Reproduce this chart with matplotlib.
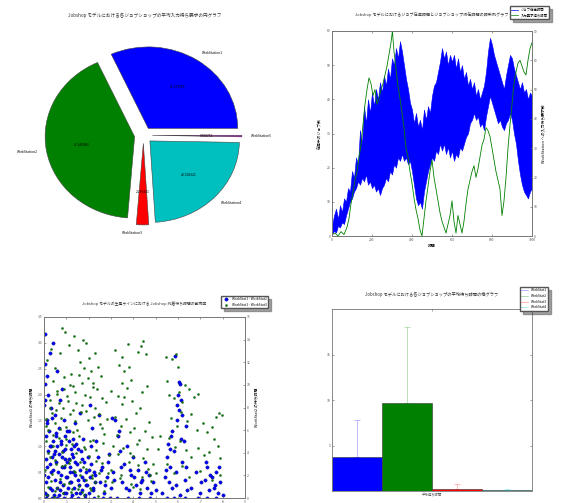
import matplotlib
matplotlib.use("Agg")
import matplotlib.pyplot as plt
from matplotlib.lines import Line2D

plt.rcParams['font.family'] = ['Noto Sans CJK JP', 'DejaVu Sans']
plt.rcParams['font.size'] = 2.5
plt.rcParams['axes.edgecolor'] = '#777777'
plt.rcParams['axes.linewidth'] = 0.6
for a in ('xtick', 'ytick'):
    plt.rcParams[a + '.direction'] = 'in'
    plt.rcParams[a + '.major.size'] = 1.6
    plt.rcParams[a + '.major.width'] = 0.4
    plt.rcParams[a + '.major.pad'] = 1.2
    plt.rcParams[a + '.labelsize'] = 2.4
    plt.rcParams[a + '.color'] = '#555555'
plt.rcParams['legend.fontsize'] = 2.4

# --- pie: average input-wait requests per workstation ---
pie_labels = ['WorkStation1', 'WorkStation2', 'WorkStation3', 'WorkStation4', 'WorkStation5']
pie_values = [31.797314, 41.943286, 2.230321, 23.728323, 0.300756]
pie_colors = ['#0000ff', '#008000', '#ff0000', '#00bfbf', '#bf00bf']

# --- time series (blue band = job stock time, green = input wait) ---
t_band = list(range(0, 1001, 10))
band_hi = [3, 6, 8, 5, 9, 7, 11, 10, 14, 13, 19, 17, 23, 21, 31, 27, 38, 33, 40, 36,
           42, 38, 43, 40, 45, 42, 47, 44, 49, 46, 52, 50, 55, 52, 57, 54, 50, 46, 43, 39,
           37, 33, 36, 32, 34, 31, 37, 34, 38, 36, 41, 44, 45, 48, 51, 55, 52, 54, 50, 53,
           51, 53, 49, 52, 48, 50, 46, 48, 44, 46, 43, 45, 41, 43, 40, 42, 44, 48, 54, 58,
           56, 53, 51, 49, 47, 45, 43, 47, 50, 53, 52, 49, 47, 45, 43, 45, 42, 43, 40, 42,
           41]
band_lo = [0.5, 1.5, 1, 3, 2.5, 4, 3.5, 6, 8, 10, 11, 13, 14, 16, 15, 17, 16, 18, 15, 16,
           14, 15, 13, 14, 12, 14, 15, 17, 16, 19, 18, 21, 20, 23, 22, 24, 22, 23, 21, 22,
           19, 15, 11, 9, 10, 8, 13, 16, 19, 21, 23, 22, 25, 24, 27, 25, 27, 24, 26, 23,
           25, 22, 24, 23, 26, 25, 27, 29, 30, 33, 34, 36, 34, 35, 32, 33, 31, 35, 38, 41,
           39, 37, 35, 33, 34, 32, 31, 33, 34, 36, 34, 30, 27, 22, 18, 15, 13, 12, 11, 13,
           14]
t_wait = [0, 15, 30, 45, 60, 75, 85, 95, 105, 115, 125, 135, 145, 155, 165, 175, 185,
          195, 205, 215, 225, 235, 245, 255, 265, 275, 285, 295, 302, 310, 320, 330,
          340, 350, 360, 370, 380, 390, 400, 410, 420, 430, 440, 450, 460, 470, 480,
          490, 500, 510, 520, 530, 540, 550, 560, 570, 580, 590, 600, 610, 620, 630,
          640, 650, 660, 670, 680, 690, 700, 710, 720, 730, 740, 750, 760, 770, 780,
          790, 800, 810, 820, 830, 840, 850, 860, 870, 880, 890, 900, 910, 920, 930,
          940, 950, 960, 970, 980, 990, 1000]
wait_val = [0.5, 1, 0, 1.5, 0.5, 3, 6, 11, 15, 19, 22, 27, 31, 38, 45, 50, 54,
            52, 48, 50, 45, 47, 50, 52, 55, 58, 62, 66, 70, 63, 57, 51,
            47, 42, 37, 30, 27, 22, 18, 13, 9, 6, 2, 0, 6, 12, 17,
            22, 26, 20, 16, 12, 8, 5, 3, 1, 4, 7, 12, 5, 1, 7,
            4, 1, 5, 11, 16, 19, 22, 24, 20, 23, 27, 31, 33, 37, 36,
            34, 30, 26, 22, 19, 16, 7, 12, 20, 30, 38, 45, 52, 56, 59,
            60, 58, 56, 55, 60, 64, 66]

# --- scatter: arrival wait times ---
blue_x = [0.05, 0.1, 0.15, 0.2, 0.08, 0.12, 0.25, 0.3, 0.35, 0.4, 0.45, 0.5, 0.55, 0.6, 0.65,
          0.7, 0.75, 0.8, 0.85, 0.9, 0.95, 1.0, 1.05, 1.1, 1.15, 1.2, 1.25, 1.3, 1.35, 1.4,
          1.45, 1.5, 0.02, 0.05, 0.03, 0.06, 0.4, 0.15, 0.3, 0.5, 0.2, 0.7, 0.9, 1.1, 1.6,
          1.4, 0.6, 0.25, 0.8, 0.1, 0.35, 0.6, 0.9, 1.2, 1.5,
          1.6, 1.7, 1.8, 1.9, 2.0, 2.1, 2.2, 2.3, 2.4, 2.5, 2.6, 2.7, 2.8, 2.9, 3.0,
          1.75, 2.15, 2.45, 2.05, 1.85, 2.25, 2.65, 2.95, 1.65, 2.35,
          3.1, 3.2, 3.3, 3.4, 3.5, 3.6, 3.7, 3.8, 3.9, 4.0, 4.1, 4.2, 4.3, 4.4, 4.5,
          4.6, 4.7, 4.8, 4.9, 3.35, 3.05, 3.25, 3.75, 4.25, 4.75, 5.0,
          5.3, 5.4, 5.5, 5.55, 5.6, 5.65, 5.7, 5.75, 5.8, 5.85, 5.9, 5.95, 6.0, 6.05, 6.1,
          6.15, 6.2, 6.25, 6.3, 6.35, 6.4, 6.05, 5.95, 6.2, 5.75, 6.1, 5.5, 5.8, 6.3,
          6.6, 6.8, 7.0, 7.2, 7.3, 7.4, 7.5, 7.6, 7.7, 7.8, 7.9, 6.9, 7.3, 7.7, 8.0,
          0.02, 0.07, 0.12, 0.18, 0.22, 0.28, 0.33, 0.38, 0.42, 0.48, 0.52, 0.58, 0.62, 0.68,
          0.72, 0.78, 0.82, 0.88, 0.92, 0.98, 1.02, 1.08, 1.12, 1.18, 1.22, 1.28, 1.32, 1.38,
          1.42, 1.48, 1.52, 1.58, 1.62, 1.68, 1.72, 1.78, 1.82, 1.88, 1.92, 1.98, 2.02, 2.08,
          2.12, 2.18, 2.22, 2.28, 0.05, 0.15, 0.25, 0.35, 0.45, 0.55, 0.65, 0.75, 0.85, 0.95,
          1.05, 1.15, 1.25, 1.35,
          2.55, 2.75, 2.85, 3.15, 3.45, 3.65, 3.85, 4.05, 4.35, 4.55, 5.45, 5.65, 5.9, 6.15,
          6.35, 7.05, 7.25, 7.45, 7.65, 7.85]
blue_y = [0.1, 0.3, 0.6, 0.9, 1.2, 1.5, 0.2, 0.5, 0.8, 1.1, 0.05, 0.35, 0.7, 1.0, 1.35,
          0.15, 0.45, 0.8, 0.25, 0.6, 1.2, 0.1, 0.4, 0.75, 0.3, 0.95, 0.05, 0.5, 0.2, 0.7,
          1.05, 0.35, 1.8, 2.2, 2.6, 3.17, 3.0, 2.35, 1.75, 1.6, 2.0, 1.9, 1.5, 1.3, 1.65,
          1.45, 2.45, 2.8, 2.1, 0.0, 0.0, 0.0, 0.0, 0.0, 0.0,
          0.1, 0.4, 0.7, 0.25, 0.55, 1.0, 0.15, 0.45, 0.8, 0.3, 0.6, 0.1, 0.4, 0.85, 0.2,
          1.15, 1.35, 1.6, 1.8, 0.0, 0.0, 0.0, 0.0, 0.9, 1.1,
          0.5, 1.5, 1.2, 0.9, 0.3, 0.65, 1.0, 0.15, 0.45, 0.8, 0.25, 0.55, 0.1, 0.35, 0.7,
          0.2, 0.45, 0.1, 0.3, 1.3, 1.55, 0.0, 0.0, 0.0, 0.0, 0.15,
          0.1, 0.4, 0.8, 1.05, 0.3, 0.6, 1.2, 0.2, 0.9, 2.75, 0.5, 1.5, 2.0, 1.7, 2.2,
          1.9, 0.7, 1.1, 0.35, 1.4, 0.15, 2.25, 1.8, 1.6, 1.3, 0.05, 0.0, 0.0, 0.0,
          0.2, 0.5, 0.1, 0.35, 0.6, 0.15, 0.4, 0.2, 0.5, 0.1, 0.3, 0.0, 0.0, 0.0, 0.05,
          0.45, 0.75, 0.05, 0.4, 1.3, 0.65, 1.0, 0.15, 0.55, 0.9, 1.25, 0.2, 0.5, 0.85,
          0.3, 1.05, 0.6, 0.1, 0.95, 0.4, 0.7, 0.2, 1.1, 0.5, 0.3, 0.8, 1.15, 0.45,
          0.1, 0.65, 0.95, 0.25, 0.55, 0.15, 0.75, 0.35, 0.05, 0.5, 0.25, 0.8, 0.1, 0.4,
          0.65, 0.2, 0.5, 0.3, 1.9, 1.45, 1.0, 1.55, 0.85, 1.2, 0.05, 1.1, 0.9, 0.75,
          1.3, 0.6, 0.85, 1.0,
          0.55, 0.25, 0.7, 0.35, 0.6, 0.2, 0.55, 0.4, 0.3, 0.5, 0.55, 0.95, 0.25, 1.15,
          0.6, 0.3, 0.7, 0.45, 0.25, 0.6]
green_x = [0.15, 0.3, 0.5, 0.7, 0.8, 0.95, 1.1, 1.2, 1.35, 1.5, 1.6, 1.75, 1.9, 2.0, 2.1,
           2.3, 2.4, 2.55, 0.4, 0.6, 0.9, 1.05, 1.3, 1.45, 1.7, 1.85, 2.2, 2.6, 0.25, 0.55,
           0.85, 1.15, 1.4, 1.65, 1.95, 2.25, 2.5, 2.8, 0.1, 0.4, 0.7, 1.0, 1.25, 1.55, 1.8,
           2.05, 2.35, 2.65, 2.9, 0.2, 0.5, 0.8, 1.1, 1.35, 1.6, 1.9, 2.15, 2.45, 2.75, 3.0,
           0.3, 0.6, 0.9, 1.2, 1.5, 1.8, 2.1, 2.4, 2.7, 0.15, 0.45,
           3.2, 3.35, 3.5, 3.6, 3.75, 3.8, 3.9, 4.2, 4.35, 4.45, 4.55, 4.4, 4.6, 3.3, 3.5,
           3.7, 3.95, 4.1, 4.3, 3.2, 3.45, 3.65, 3.85, 4.05, 4.25, 4.5, 4.7, 4.85, 3.1, 3.3,
           3.55, 3.8, 4.0, 4.2, 4.45, 4.65, 4.9, 5.1, 5.2, 3.4, 3.9, 4.3, 4.8, 5.0,
           5.45, 5.75, 5.9, 6.0, 5.6, 5.8, 6.05, 6.2, 5.5, 6.3, 6.5, 6.7, 6.9, 5.7, 5.95,
           6.15, 6.4, 6.6, 6.85, 7.1, 7.3, 7.5, 7.7, 7.85, 7.95, 7.6, 7.8, 7.4, 7.15, 7.9,
           5.6, 5.85, 6.1, 6.35, 6.6, 6.9, 5.5, 5.8, 6.2, 6.5, 7.0, 7.5, 7.9,
           0.05, 0.1, 0.2, 0.25, 0.35, 0.4, 0.5, 0.55, 0.65, 0.7, 0.8, 0.85, 0.95, 1.0,
           1.1, 1.15, 1.25, 1.3, 1.4, 1.45, 1.55, 1.6, 1.7, 1.75, 1.85, 1.9, 2.0, 2.05,
           2.15, 2.2, 2.3, 2.35, 0.08, 0.18, 0.28, 0.38, 0.48, 0.58, 0.68, 0.78, 0.88,
           0.98, 1.08, 1.18, 1.28, 1.38, 1.48, 1.58, 1.68, 1.78, 1.88, 1.98, 2.08, 2.18,
           2.28, 2.38, 2.48, 2.58, 2.68, 2.78,
           2.6, 2.85, 3.05, 3.25, 3.45, 3.6, 3.85, 4.15, 4.4, 4.6, 4.75, 3.0, 3.5, 4.0]
green_y = [12.2, 13.2, 11.5, 12.8, 15.0, 14.7, 13.5, 11.0, 14.3, 13.1, 12.0, 14.0, 13.7, 12.4, 11.2,
           12.8, 11.6, 10.8, 10.3, 9.5, 10.7, 9.0, 9.9, 8.4, 10.2, 9.1, 9.8, 8.8, 8.7, 7.8,
           8.0, 7.4, 6.8, 7.6, 6.9, 7.2, 6.5, 7.0, 6.4, 5.6, 6.1, 5.2, 4.8, 5.5, 4.5,
           5.0, 4.2, 4.9, 3.8, 4.0, 3.4, 2.8, 3.1, 2.4, 2.0, 2.6, 1.8, 2.2, 1.5, 2.5,
           1.5, 0.9, 1.2, 0.5, 0.8, 0.3, 0.7, 0.2, 0.6, 0.3, 0.1,
           13.1, 11.8, 12.5, 11.2, 13.6, 11.6, 10.4, 12.9, 13.4, 13.9, 12.7, 9.4, 9.9, 9.0, 8.3,
           9.7, 8.6, 7.5, 8.0, 7.2, 6.4, 7.0, 5.8, 6.2, 5.1, 5.9, 6.7, 5.4, 4.6, 3.9,
           4.4, 3.2, 3.7, 2.9, 3.5, 2.6, 3.0, 4.3, 5.5, 1.8, 1.2, 0.8, 1.5, 2.2,
           12.5, 12.3, 12.7, 11.6, 9.1, 8.8, 9.4, 8.5, 10.3, 10.0, 9.6, 8.9, 9.2, 7.1, 6.4,
           7.6, 6.8, 7.4, 6.0, 6.6, 5.8, 6.3, 7.2, 7.5, 7.3, 5.2, 4.6, 4.1, 3.8, 3.5,
           5.3, 4.5, 5.0, 4.2, 3.6, 4.4, 3.0, 2.2, 2.8, 1.9, 2.4, 1.6, 2.0,
           2.5, 5.0, 1.0, 3.6, 2.1, 4.6, 0.6, 3.0, 5.3, 1.7, 4.1, 0.4, 2.9, 4.7,
           1.3, 3.4, 0.8, 5.8, 2.3, 4.0, 1.1, 3.2, 0.5, 2.7, 4.3, 1.6, 3.7, 0.9,
           2.0, 5.1, 1.4, 3.3, 7.0, 6.0, 8.0, 7.5, 6.6, 9.2, 8.4, 7.1, 9.6,
           6.3, 8.6, 10.0, 7.8, 9.4, 6.0, 10.9, 8.2, 11.5, 7.7, 10.6, 8.9, 10.2,
           8.0, 9.6, 7.4, 6.2, 5.7, 8.5,
           3.1, 2.2, 1.4, 5.6, 2.0, 8.9, 4.0, 4.8, 1.9, 4.3, 2.0, 9.5, 10.2, 1.0]

# --- bars: average wait time per workstation ---
bar_labels = ['WorkStat1', 'WorkStat2', 'WorkStat3', 'WorkStat4']
bar_means = [3.78, 9.67, 0.27, 0.11]
bar_err = [4.04, 8.33, 0.46, 0.14]
bar_colors = ['#0000ff', '#008000', '#ff0000', '#00bfbf']

fig = plt.figure(figsize=(5.62, 5.03), dpi=100)

# pie
ax1 = fig.add_axes([44 / 562, 1 - 236 / 503, 201 / 562, 204 / 503])
ax1.pie(pie_values, labels=pie_labels, colors=pie_colors, explode=[0.1] * 5,
        autopct='%f', labeldistance=1.1, pctdistance=0.6,
        wedgeprops={'linewidth': 0.4, 'edgecolor': '#444444'},
        textprops={'fontsize': 2.4})
ax1.set_aspect('auto')
ax1.set_xlim(-1.111, 1.135)
ax1.set_ylim(-1.236, 1.267)
ax1.set_title('Jobshop モデルにおける各ジョブショップの平均入力待ち要求の円グラフ',
              fontsize=3.3, pad=11, color='#333333')

# time series
ax2 = fig.add_axes([332 / 562, 1 - 236 / 503, 200 / 562, 205 / 503])
ax2.fill_between(t_band, band_lo, band_hi, color='#0000ff', linewidth=0.4,
                 edgecolor='#0000ff')
ax2.set_xlim(0, 1000)
ax2.set_ylim(0, 60)
ax2.set_xticks([0, 200, 400, 600, 800, 1000])
ax2.set_yticks([0, 10, 20, 30, 40, 50, 60])
ax2.tick_params(top=True)
ax2.set_xlabel('時間', fontsize=2.8, labelpad=1.5)
ax2.set_ylabel('在庫中のジョブ数', fontsize=2.8, labelpad=3)
ax2b = ax2.twinx()
ax2b.plot(t_wait, wait_val, color='#008000', linewidth=0.6)
ax2b.set_ylim(0, 70)
ax2b.set_yticks([0, 10, 20, 30, 40, 50, 60, 70])
ax2b.set_ylabel('WorkStation への入力待ち要求数', fontsize=2.8, labelpad=3)
ax2.set_title('Jobshop モデルにおけるジョブ在庫時間とジョブショップ滞在時間の時系列グラフ',
              fontsize=2.95, pad=10.5, color='#333333')
h2 = [Line2D([], [], color='#0000ff', linewidth=0.5),
      Line2D([], [], color='#008000', linewidth=0.5)]
ax2.legend(h2, ['ジョブ在庫時間', '入力要求待ち時間'], loc='upper right',
           bbox_to_anchor=(1.085, 1.12), borderaxespad=0, shadow=True,
           fancybox=False, handlelength=2, edgecolor='#555555')

# scatter
ax3 = fig.add_axes([44 / 562, 1 - 498 / 503, 201 / 562, 181 / 503])
ax3.scatter(blue_x, blue_y, s=6, color='#0000ff', edgecolors='#000033',
            linewidths=0.2, label='WorkStat1 - WorkStat2')
ax3.set_xlim(0, 9)
ax3.set_ylim(0, 3.5)
ax3.set_xticks(range(10))
ax3.set_yticks([0.0, 0.5, 1.0, 1.5, 2.0, 2.5, 3.0, 3.5])
ax3.set_yticklabels(['0.0', '0.5', '1.0', '1.5', '2.0', '2.5', '3.0', '3.5'])
ax3.tick_params(top=True)
ax3.set_ylabel('WorkStat1 の待ち時間', fontsize=2.8, labelpad=3)
ax3b = ax3.twinx()
ax3b.scatter(green_x, green_y, s=2.5, color='#008000', edgecolors='#223322',
             linewidths=0.2, label='WorkStat1 - WorkStat3')
ax3b.set_ylim(0, 16)
ax3b.set_yticks([0, 2, 4, 6, 8, 10, 12, 14, 16])
ax3b.set_ylabel('WorkStat2 の待ち時間', fontsize=2.8, labelpad=3)
ax3.set_title('Jobshop モデルの生産ラインにおける Jobshop 到着待ち時間の散布図',
              fontsize=2.8, pad=9, color='#333333')
hb, lb = ax3.get_legend_handles_labels()
hg, lg = ax3b.get_legend_handles_labels()
ax3b.legend(hb + hg, lb + lg, loc='upper right', bbox_to_anchor=(1.114, 1.116),
            borderaxespad=0, shadow=True, fancybox=False, scatterpoints=1,
            edgecolor='#555555')

# bars
ax4 = fig.add_axes([332 / 562, 1 - 491 / 503, 200 / 562, 182 / 503])
xs = list(range(len(bar_means)))
ax4.bar(xs, bar_means, width=1, align='edge', color=bar_colors,
        edgecolor='#333333', linewidth=0.4)
xc = [x + 0.5 for x in xs]
for i in xs:
    ax4.errorbar(xc[i], bar_means[i], yerr=[[0], [bar_err[i]]], fmt='none',
                 ecolor=bar_colors[i], alpha=0.3, elinewidth=0.6, capsize=2,
                 capthick=0.6)
ax4.set_xlim(0, 4)
ax4.set_ylim(0, 20)
ax4.set_xticks([2])
ax4.set_xticklabels(['平均待ち時間'])
ax4.set_yticks([5, 10, 15])
ax4.tick_params(top=True, right=True)
ax4.set_title('Jobshop モデルにおける各ジョブショップの平均待ち時間の棒グラフ',
              fontsize=3.1, pad=9.7, color='#333333')
h4 = [Line2D([], [], color=c, alpha=0.35, linewidth=0.6) for c in bar_colors]
ax4.legend(h4, bar_labels, loc='upper right', bbox_to_anchor=(1.08, 1.12),
           borderaxespad=0, shadow=True, fancybox=False, handlelength=2,
           edgecolor='#555555')

fig.savefig('out.png', dpi=100)
